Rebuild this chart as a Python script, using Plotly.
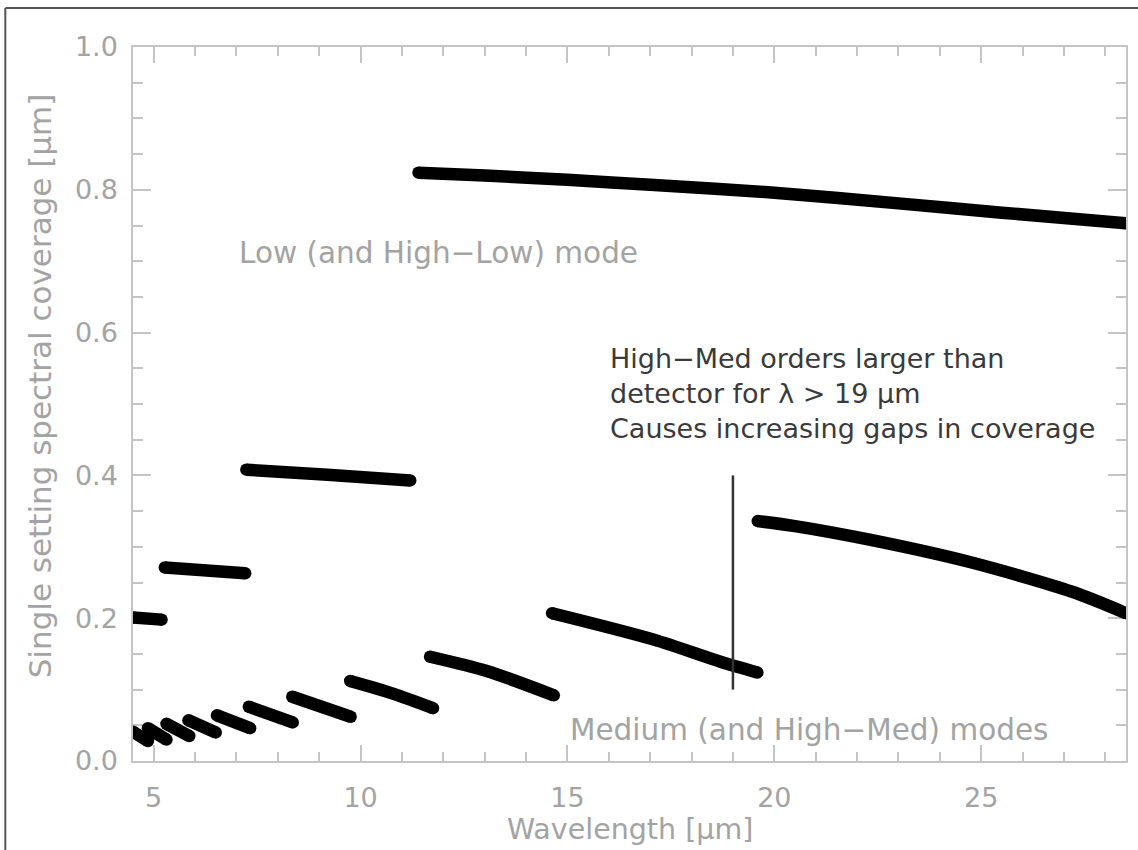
import plotly.graph_objects as go

# ---- data ----
# Low (and High-Low) mode segments
low1_x = [4.50, 5.19]
low1_y = [0.201, 0.198]
low2_x = [5.27, 7.21]
low2_y = [0.271, 0.263]
low3_x = [7.24, 9.2, 11.20]
low3_y = [0.408, 0.401, 0.393]
low4_x = [11.40, 13.0, 15.0, 17.0, 20.0, 23.0, 25.5, 28.5]
low4_y = [0.824, 0.820, 0.814, 0.807, 0.796, 0.781, 0.768, 0.753]

# Medium (and High-Med) mode segments
med1_x = [4.50, 4.86]
med1_y = [0.041, 0.028]
med2_x = [4.86, 5.31]
med2_y = [0.046, 0.030]
med3_x = [5.31, 5.86]
med3_y = [0.052, 0.035]
med4_x = [5.84, 6.50]
med4_y = [0.057, 0.040]
med5_x = [6.53, 7.33]
med5_y = [0.064, 0.046]
med6_x = [7.30, 8.36]
med6_y = [0.076, 0.054]
med7_x = [8.35, 9.76]
med7_y = [0.090, 0.062]
med8_x = [9.75, 10.8, 11.75]
med8_y = [0.112, 0.094, 0.074]
med9_x = [11.68, 13.05, 14.67]
med9_y = [0.146, 0.126, 0.092]
med10_x = [14.63, 17.09, 18.7, 19.59]
med10_y = [0.207, 0.170, 0.139, 0.124]
med11_x = [19.60, 20.5, 22.3, 24.7, 27.2, 28.5]
med11_y = [0.336, 0.329, 0.310, 0.279, 0.237, 0.207]

# detector limit marker
limit_x = [19.0, 19.0]
limit_y = [0.10, 0.40]

x_ticks = [5, 10, 15, 20, 25]
y_ticks = [0.0, 0.2, 0.4, 0.6, 0.8, 1.0]

segments = [
    (low1_x, low1_y), (low2_x, low2_y), (low3_x, low3_y), (low4_x, low4_y),
    (med1_x, med1_y), (med2_x, med2_y), (med3_x, med3_y), (med4_x, med4_y),
    (med5_x, med5_y), (med6_x, med6_y), (med7_x, med7_y), (med8_x, med8_y),
    (med9_x, med9_y), (med10_x, med10_y), (med11_x, med11_y),
]

FONT = "DejaVu Sans"
GRAY = "#a3a3a3"
AXIS = "#c4c4c4"
LW = 12.5

fig = go.Figure()
for sx, sy in segments:
    fig.add_trace(go.Scatter(
        x=sx, y=sy, mode="lines",
        line=dict(color="#000000", width=LW, shape="spline", smoothing=0.8),
        showlegend=False, hoverinfo="skip",
    ))

# round end caps at each segment end
cap_x = [v for sx, _ in segments for v in (sx[0], sx[-1])]
cap_y = [v for _, sy in segments for v in (sy[0], sy[-1])]
fig.add_trace(go.Scatter(
    x=cap_x, y=cap_y, mode="markers",
    marker=dict(color="#000000", size=LW, opacity=1, line=dict(width=0, color="#000000")),
    showlegend=False, hoverinfo="skip",
))

fig.add_trace(go.Scatter(
    x=limit_x, y=limit_y, mode="lines",
    line=dict(color="#333333", width=2.5),
    showlegend=False, hoverinfo="skip",
))

axis_common = dict(
    showgrid=False, zeroline=False, showline=True, linecolor=AXIS, linewidth=1.5,
    mirror="ticks", ticks="inside", tickcolor=AXIS, tickwidth=1.5,
    tickfont=dict(family=FONT, size=27, color=GRAY),
    layer="below traces",
)

fig.update_xaxes(
    range=[4.5, 28.5], tickvals=x_ticks, ticklen=16,
    minor=dict(dtick=1, tick0=0, ticklen=9, ticks="inside", tickcolor=AXIS, tickwidth=1.5),
    ticklabelstandoff=12,
    **axis_common,
)
fig.update_yaxes(
    range=[0, 1.0], tickvals=y_ticks, tickformat=".1f", ticklen=18,
    minor=dict(dtick=0.05, tick0=0, ticklen=10, ticks="inside", tickcolor=AXIS, tickwidth=1.5),
    ticklabelstandoff=8,
    **axis_common,
)

annotations = [
    dict(x=7.01, y=0.711, xref="x", yref="y", text="Low (and High−Low) mode",
         showarrow=False, xanchor="left", yanchor="middle",
         font=dict(family=FONT, size=29.5, color=GRAY)),
    dict(x=15.02, y=0.043, xref="x", yref="y", text="Medium (and High−Med) modes",
         showarrow=False, xanchor="left", yanchor="middle",
         font=dict(family=FONT, size=29.5, color=GRAY)),
    dict(x=15.97, y=0.515, xref="x", yref="y",
         text="High−Med orders larger than<br>detector for λ > 19 μm<br>Causes increasing gaps in coverage",
         showarrow=False, xanchor="left", yanchor="middle", align="left",
         font=dict(family=FONT, size=27, color="#3a3a3a")),
    dict(x=0.5, y=-0.0966, xref="paper", yref="paper", text="Wavelength [μm]",
         showarrow=False, xanchor="center", yanchor="middle",
         font=dict(family=FONT, size=28.5, color=GRAY)),
    dict(x=-0.0935, y=0.525, xref="paper", yref="paper",
         text="Single setting spectral coverage [μm]", textangle=-90,
         showarrow=False, xanchor="center", yanchor="middle",
         font=dict(family=FONT, size=31, color=GRAY)),
]

shapes = [
    dict(type="line", xref="paper", yref="paper", x0=-0.1286, x1=1.02, y0=1.0546, y1=1.0546,
         line=dict(color="#555555", width=2)),
    dict(type="line", xref="paper", yref="paper", x0=-0.1286, x1=-0.1286, y0=1.0546, y1=-0.13,
         line=dict(color="#555555", width=2)),
]

fig.update_layout(
    width=1138, height=850, autosize=False,
    margin=dict(l=133, r=10, t=47, b=89),
    paper_bgcolor="white", plot_bgcolor="white",
    annotations=annotations, shapes=shapes,
    showlegend=False,
)

fig.write_html(
    "out.html",
    config={"displayModeBar": False},
    post_script="document.body.style.margin='0';document.body.style.overflow='hidden';",
)
